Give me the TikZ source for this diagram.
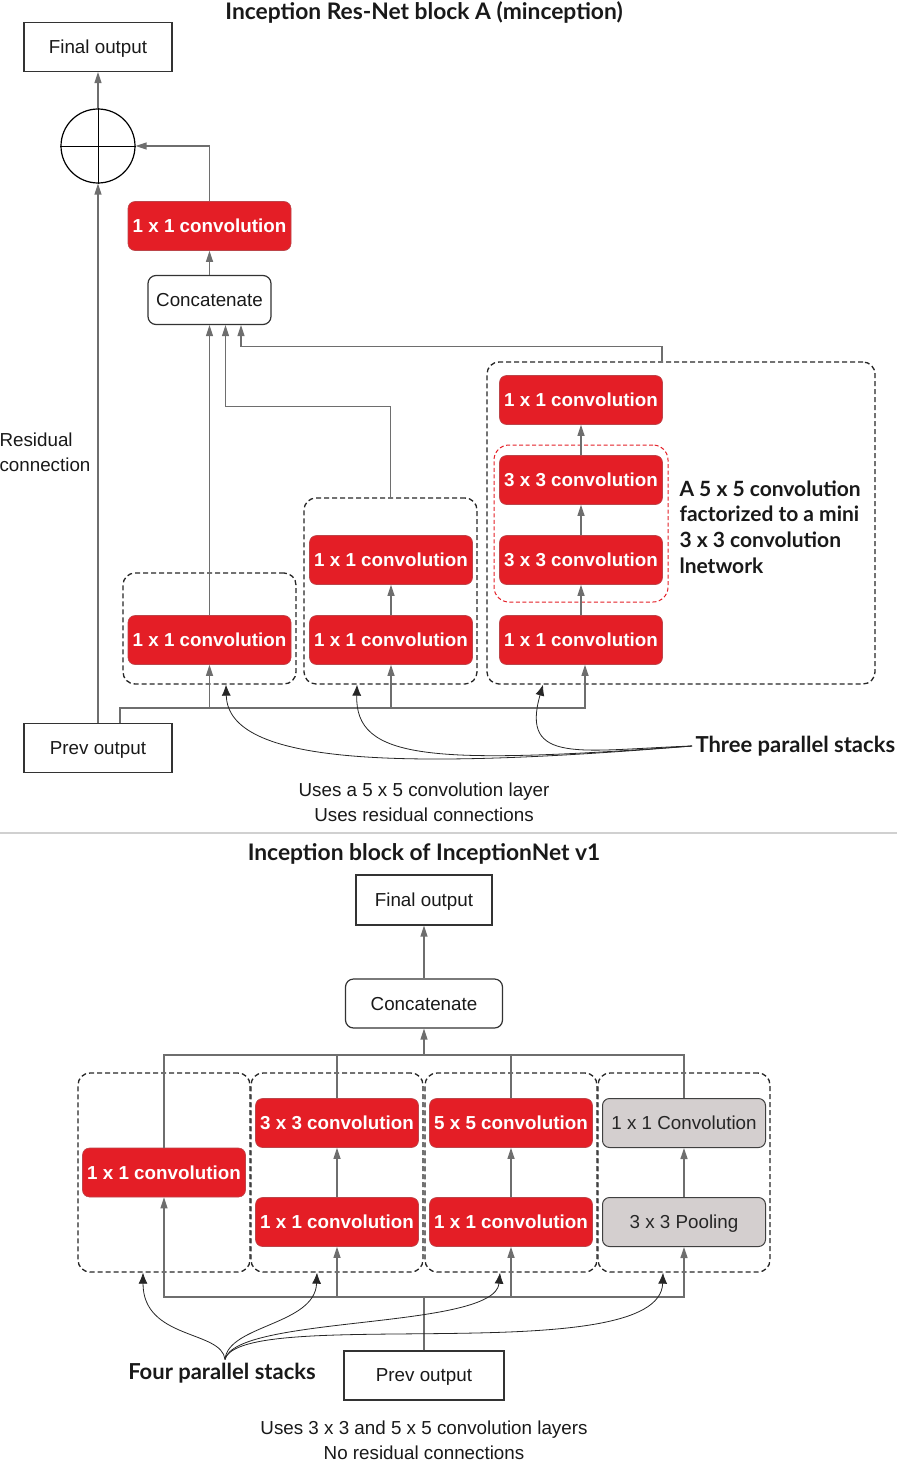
\documentclass[tikz,border=0pt]{standalone}
\usepackage{fontspec}
\setmainfont{Liberation Sans}
\newfontfamily\notefont{Lato}
\usetikzlibrary{arrows.meta, positioning}
\definecolor{ConvRed}{HTML}{E41E26}
\definecolor{PoolGray}{HTML}{D4CFCF}
\definecolor{WireGray}{HTML}{6E6E6E}
\definecolor{RuleGray}{HTML}{D0D0D0}

\begin{document}
\begin{tikzpicture}[
  x=1pt, y=-1pt,
  every node/.style={font=\fontsize{18.8}{25}\selectfont, text=black!90},
  plain/.style={rectangle, draw=black!80, line width=1.2pt, minimum width=148pt,
    minimum height=49pt, inner sep=0pt, text depth=0pt},
  joinbox/.style={plain, rounded corners=8pt},
  conv/.style={rectangle, rounded corners=7pt, fill=ConvRed, draw=ConvRed!60!gray,
    line width=0.6pt, text=white, font=\fontsize{18.8}{23}\selectfont\bfseries,
    minimum width=163pt, minimum height=49pt, inner sep=0pt, text depth=0pt},
  pool/.style={conv, fill=PoolGray, draw=black!75, line width=1pt, text=black!85,
    font=\fontsize{18.8}{23}\selectfont},
  stack/.style={rectangle, draw=black!85, dash pattern=on 5pt off 3pt,
    rounded corners=12pt, line width=1.3pt, inner sep=0pt},
  note/.style={font=\notefont\bfseries\fontsize{22}{25.7}\selectfont, text=black!90},
  headline/.style={note, font=\notefont\bfseries\fontsize{22.8}{26}\selectfont},
  wire/.style={draw=WireGray, line width=1.3pt},
  arrow/.style={wire, -{Triangle[length=11pt, width=7pt]}},
  pointer/.style={draw=black!85, line width=0.8pt, -{Latex[length=11pt, width=9pt]}}
]
\useasboundingbox (0,0) rectangle (897,1461);

% Inception Res-Net block A
\node[headline] (titleA) at (424,12) {Inception Res-Net block A (minception)};

\node[plain] (outA) at (98,47) {Final output};
\node[circle, draw, line width=1.2pt, minimum size=74pt, inner sep=0pt] (sum) at (98,146) {};
\draw[line width=1pt] (sum.north) -- (sum.south) (sum.west) -- (sum.east);
\node[conv] (mixA) at (209.5,226) {1 x 1 convolution};
\node[joinbox, minimum width=123pt] (catA) at (209.5,300) {Concatenate};

\node[stack, minimum width=173pt, minimum height=111pt] (stackA1) at (209.5,628.5) {};
\node[stack, minimum width=173pt, minimum height=186pt] (stackA2) at (390.5,591) {};
\node[stack, minimum width=388pt, minimum height=322pt] (stackA3) at (681,523) {};
\node[stack, draw=ConvRed, line width=1pt, dash pattern=on 4pt off 2.5pt, rounded corners=15pt,
  minimum width=174pt, minimum height=157pt] (miniNet) at (581,523.5) {};

\node[conv] (a1conv) at (209.5,640) {1 x 1 convolution};
\node[conv] (a2low) at (391,640) {1 x 1 convolution};
\node[conv] (a2top) at (391,560) {1 x 1 convolution};
\node[conv] (a3low) at (581,640) {1 x 1 convolution};
\node[conv] (a3mid) at (581,560) {3 x 3 convolution};
\node[conv] (a3up) at (581,480) {3 x 3 convolution};
\node[conv] (a3top) at (581,400) {1 x 1 convolution};

\node[plain] (prevA) at (98,748) {Prev output};

\node[anchor=west, align=left] (resNote) at (-4,452) {Residual\\connection};
\node[note, anchor=west, align=left, font=\notefont\bfseries\fontsize{21}{25.7}\selectfont]
  (miniNote) at (676,527) {A 5 x 5 convolution\\factorized to a mini\\3 x 3 convolution\\lnetwork};
\node[note, anchor=west] (threeNote) at (692,746) {Three parallel stacks};
\node[align=center] (usesA) at (424,802) {Uses a 5 x 5 convolution layer\\Uses residual connections};

\draw[arrow] (sum.north) -- (outA.south);
\draw[arrow] (prevA.north) -- (sum.south);
\draw[arrow] (mixA.north) |- (sum.east);
\draw[arrow] (catA) -- (mixA);
\draw[arrow] (a1conv.north) -- (catA.south);
\draw[arrow] (stackA2.north) -- ++(0,-91) -| ([xshift=16]catA.south);
\draw[arrow] ([xshift=-19]stackA3.north) -- ++(0,-15) -| ([xshift=31.5]catA.south);
\draw[arrow] (a2low) -- (a2top);
\draw[arrow] (a3low) -- (a3mid);
\draw[arrow] (a3mid) -- (a3up);
\draw[arrow] (a3up) -- (a3top);

\coordinate (busA) at (585,708);
\draw[arrow] ([xshift=22]prevA.north) |- (busA) -- ([xshift=4]a3low.south);
\draw[arrow] (a1conv.south |- busA) -- (a1conv.south);
\draw[arrow] (a2low.south |- busA) -- (a2low.south);

\draw[pointer] (threeNote.west) .. controls (580,750) and (520,765) .. ([xshift=-138]stackA3.south);
\draw[pointer] (threeNote.west) .. controls (430,765) and (355,760) .. ([xshift=-33.5]stackA2.south);
\draw[pointer] (threeNote.west) .. controls (400,770) and (228,765) .. ([xshift=16.5]stackA1.south);

\draw[RuleGray, line width=1.5pt] (0,833) -- (897,833);

% Inception block of InceptionNet v1
\node[headline] (titleB) at (424,854) {Inception block of InceptionNet v1};

\node[plain, minimum width=136pt, minimum height=50pt] (outB) at (424,900) {Final output};
\node[joinbox, minimum width=157pt] (catB) at (424,1003.5) {Concatenate};

\foreach \i/\x in {1/164,2/337,3/511,4/684}
  \node[stack, minimum width=172pt, minimum height=199pt] (stackB\i) at (\x,1172.5) {};

\node[conv] (b1conv) at (164,1172.5) {1 x 1 convolution};
\node[conv] (b2top) at (337,1123) {3 x 3 convolution};
\node[conv] (b2low) at (337,1222) {1 x 1 convolution};
\node[conv] (b3top) at (511,1123) {5 x 5 convolution};
\node[conv] (b3low) at (511,1222) {1 x 1 convolution};
\node[pool] (b4top) at (684,1123) {1 x 1 Convolution};
\node[pool] (b4low) at (684,1222) {3 x 3 Pooling};

\node[plain, minimum width=160pt] (prevB) at (424,1375.5) {Prev output};
\node[note] (fourNote) at (222,1373) {Four parallel stacks};
\node[align=center] (usesB) at (424,1440) {Uses 3 x 3 and 5 x 5 convolution layers\\No residual connections};

\draw[arrow] (catB) -- (outB);
\coordinate (joinB) at (424,1055);
\draw[wire] (b1conv.north) |- (b4top.north |- joinB) -- (b4top.north);
\draw[wire] (b2top.north) -- (b2top.north |- joinB);
\draw[wire] (b3top.north) -- (b3top.north |- joinB);
\draw[arrow] (joinB) -- (catB.south);

\draw[arrow] (b2low) -- (b2top);
\draw[arrow] (b3low) -- (b3top);
\draw[arrow] (b4low) -- (b4top);

\coordinate (feedB) at (424,1297);
\draw[arrow] (prevB.north) |- (b1conv.south |- feedB) -- (b1conv.south);
\draw[arrow] (prevB.north) |- (b4low.south |- feedB) -- (b4low.south);
\draw[arrow] (b2low.south |- feedB) -- (b2low.south);
\draw[arrow] (b3low.south |- feedB) -- (b3low.south);

\draw[pointer] ([xshift=3]fourNote.north) .. controls (222,1330) and (143,1340) .. ([xshift=-21]stackB1.south);
\draw[pointer] ([xshift=3]fourNote.north) .. controls (228,1325) and (315,1325) .. ([xshift=-20]stackB2.south);
\draw[pointer] ([xshift=3]fourNote.north) .. controls (235,1315) and (495,1330) .. ([xshift=-11]stackB3.south);
\draw[pointer] ([xshift=3]fourNote.north) .. controls (240,1305) and (660,1370) .. ([xshift=-21]stackB4.south);
\end{tikzpicture}
\end{document}
